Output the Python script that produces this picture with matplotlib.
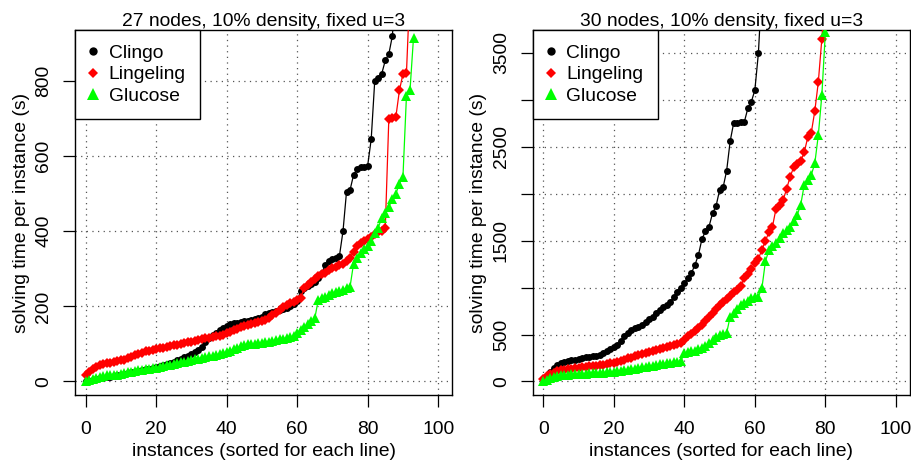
import matplotlib
matplotlib.use('Agg')
import matplotlib.pyplot as plt
from matplotlib.lines import Line2D
import numpy as np

plt.rcParams['font.family'] = ['Liberation Sans', 'DejaVu Sans']

# solving times (s), each list sorted, instance index starts at 0
clingo_27 = [1, 2, 4, 6, 8, 10, 12, 13, 15, 16, 18, 20, 22, 24, 26, 28, 30, 32, 34, 36,
             38, 40, 43, 46, 49, 52, 56, 60, 64, 68, 72, 78, 85, 92, 105, 115, 125, 130, 136, 142,
             148, 152, 155, 157, 158, 160, 162, 164, 166, 169, 172, 180, 183, 186, 188, 190, 194, 197, 200, 206,
             215, 240, 250, 255, 260, 265, 275, 290, 310, 320, 325, 330, 335, 400, 505, 510, 550, 565, 570, 572,
             575, 645, 800, 808, 820, 855, 872, 920, 1050]
lingeling_27 = [18, 25, 32, 38, 45, 47, 48, 50, 52, 55, 57, 58, 62, 66, 70, 74, 77, 80, 82, 84,
                86, 88, 90, 92, 94, 96, 98, 100, 102, 104, 106, 108, 110, 112, 115, 117, 119, 120, 122, 124,
                128, 132, 136, 140, 144, 148, 150, 153, 156, 159, 161, 164, 170, 176, 182, 190, 199, 204, 208, 212,
                217, 222, 250, 258, 266, 274, 280, 286, 290, 296, 302, 306, 310, 314, 320, 330, 345, 360, 368, 374,
                380, 386, 392, 397, 402, 410, 700, 702, 705, 775, 819, 822, 1050]
glucose_27 = [0, 3, 6, 9, 12, 14, 16, 17, 18, 18, 20, 22, 24, 26, 28, 30, 31, 32, 34, 35,
              37, 39, 41, 43, 45, 47, 49, 51, 53, 55, 57, 59, 61, 63, 65, 67, 69, 71, 73, 75,
              78, 82, 86, 90, 94, 97, 99, 100, 101, 102, 103, 104, 106, 108, 110, 112, 114, 116, 118, 120,
              130, 137, 145, 152, 160, 168, 218, 222, 226, 230, 235, 238, 241, 244, 248, 252, 314, 330, 341, 352,
              362, 375, 395, 410, 435, 450, 465, 485, 500, 527, 544, 761, 775, 916]

clingo_30 = [30, 60, 100, 140, 180, 196, 210, 220, 228, 232, 240, 250, 258, 265, 268, 275, 285, 300, 330, 345,
             365, 390, 430, 480, 520, 545, 565, 585, 600, 635, 665, 690, 730, 760, 790, 820, 850, 900, 957, 1000,
             1047, 1100, 1153, 1241, 1348, 1518, 1600, 1650, 1791, 1869, 2039, 2068, 2245, 2560, 2755, 2757, 2759, 2762, 2908, 2979,
             3103, 3494, 4200]
lingeling_30 = [30, 60, 80, 95, 110, 120, 126, 130, 135, 140, 145, 150, 155, 160, 165, 170, 175, 180, 186, 192,
                196, 205, 215, 230, 245, 255, 268, 280, 292, 303, 315, 325, 335, 345, 355, 365, 375, 385, 398, 410,
                440, 480, 510, 540, 570, 600, 640, 690, 730, 770, 810, 850, 880, 915, 950, 975, 1020, 1100, 1140, 1200,
                1260, 1310, 1400, 1500, 1590, 1650, 1840, 1880, 1930, 2050, 2180, 2280, 2320, 2350, 2440, 2600, 2650, 2880, 3190, 3650,
                4200]
glucose_30 = [0, 20, 35, 45, 55, 65, 71, 74, 76, 78, 80, 82, 84, 86, 88, 90, 92, 95, 98, 101,
              104, 108, 112, 118, 124, 130, 136, 142, 150, 158, 164, 170, 176, 182, 188, 193, 198, 203, 208, 213,
              302, 310, 320, 330, 342, 355, 380, 410, 444, 470, 490, 505, 515, 692, 730, 770, 810, 834, 860, 890,
              904, 905, 993, 1280, 1400, 1440, 1472, 1530, 1578, 1610, 1649, 1710, 1773, 1880, 2092, 2150, 2200, 2323, 2624, 3050,
              3720]

x_ticks = [0, 20, 40, 60, 80, 100]
titles = ['27 nodes, 10% density, fixed u=3', '30 nodes, 10% density, fixed u=3']
solvers = ['Clingo', 'Lingeling', 'Glucose']
colors = ['black', 'red', '#00ff00']
markers = ['o', 'D', '^']
msizes = [5, 4.8, 7]

FS = 13.9

fig = plt.figure(figsize=(9.12, 4.66), dpi=100)
W, H = 912, 466
ax1 = fig.add_axes([75 / W, 1 - 395 / H, 377.3 / W, 365 / H])
ax2 = fig.add_axes([532.7 / W, 1 - 395 / H, 377.3 / W, 365 / H])

panels = [
    (ax1, [clingo_27, lingeling_27, glucose_27], (-36, 936), [0, 200, 400, 600, 800],
     ['0', '200', '400', '600', '800']),
    (ax2, [clingo_30, lingeling_30, glucose_30], (-144, 3744), [0, 500, 1000, 1500, 2000, 2500, 3000, 3500],
     ['0', '500', '', '1500', '', '2500', '', '3500']),
]

for i, (ax, series, ylim, yt, ytl) in enumerate(panels):
    for vals, c, m, ms in zip(series, colors, markers, msizes):
        ax.plot(np.arange(len(vals)), vals, color=c, marker=m, markersize=ms,
                markeredgewidth=0, linewidth=0.9, zorder=3)
    ax.set_xlim(-3, 104)
    ax.set_ylim(*ylim)
    ax.set_xticks(x_ticks)
    ax.set_yticks(yt)
    ax.set_yticklabels(ytl, rotation=90, va='center')
    # R style dotted grid
    ax.grid(True, color='#555555', linestyle=(0, (1, 3.5)), linewidth=0.9)
    ax.tick_params(direction='out', length=8.5, width=0.9, labelsize=FS, pad=10.5)
    ax.tick_params(axis='y', pad=8)
    for s in ax.spines.values():
        s.set_linewidth(1.0)
    ax.set_title(titles[i], fontsize=FS, pad=3)
    ax.set_xlabel('instances (sorted for each line)', fontsize=FS, labelpad=3)
    ax.set_ylabel('solving time per instance (s)', fontsize=FS, labelpad=4)

    handles = [Line2D([], [], color=c, marker=m, linestyle='none', markersize=ms, markeredgewidth=0)
               for c, m, ms in zip(colors, markers, [6, 5.5, 8.5])]
    leg = ax.legend(handles, solvers, loc='upper left', fontsize=FS, borderaxespad=0,
                    fancybox=False, framealpha=1, edgecolor='black', borderpad=0.75,
                    labelspacing=0.2, handlelength=0.4, handletextpad=0.6)
    leg.get_frame().set_linewidth(1.0)
    leg.set_zorder(5)

fig.savefig('out.png', dpi=100)
